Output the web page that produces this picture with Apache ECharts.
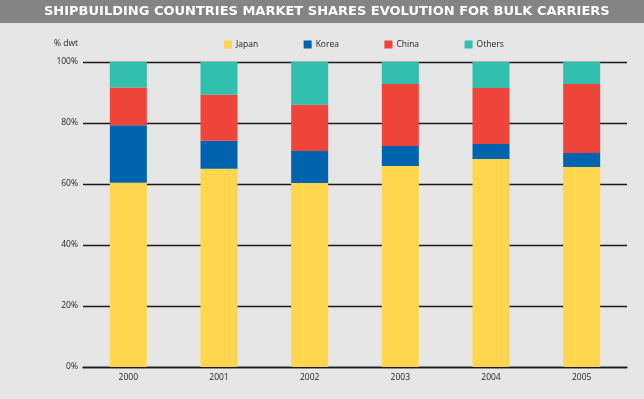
<!DOCTYPE html>
<html>
<head>
<meta charset="utf-8">
<script src="https://cdn.jsdelivr.net/npm/echarts@6/dist/echarts.min.js"></script>
<style>
	html, body { margin: 0; padding: 0; background: #e6e6e6; }
	#chart { width: 644px; height: 399px; }
</style>
</head>
<body>
<div id="chart"></div>
<script>
	'use strict';

	var years = ['2000', '2001', '2002', '2003', '2004', '2005'];
	// share of dwt, %
	var japan = [60.4, 65.0, 60.3, 65.9, 68.2, 65.6];
	var korea = [18.9, 9.2, 10.5, 6.6, 4.9, 4.6];
	var china = [12.3, 15.1, 15.2, 20.3, 18.4, 22.6];
	var others = [8.4, 10.7, 14.0, 7.2, 8.5, 7.2];
	var yTicks = [0, 20, 40, 60, 80, 100];

	var names = ['Japan', 'Korea', 'China', 'Others'];
	var colors = ['#ffd64d', '#0063ae', '#ef443a', '#32bfae'];
	var font = 'Open Sans';

	var chart = echarts.init(document.getElementById('chart'));

	var mkSeries = function (name, data) {
		return {
			name: name,
			type: 'bar',
			stack: 'total',
			barWidth: 37,
			data: data,
			itemStyle: { borderWidth: 0 },
			emphasis: { disabled: true }
		};
	};

	var option = {
		backgroundColor: '#e6e6e6',
		animation: false,
		color: colors,
		textStyle: { fontFamily: font },
		graphic: [{
			type: 'rect',
			left: 0, top: 0,
			shape: { width: 644, height: 23 },
			style: { fill: '#848484' },
			z: 0
		}, {
			type: 'text',
			left: 44, top: 5,
			style: {
				text: 'SHIPBUILDING COUNTRIES MARKET SHARES EVOLUTION FOR BULK CARRIERS',
				fill: '#ffffff',
				font: 'bold 13px "DejaVu Sans"'
			}
		}, {
			type: 'text',
			left: 54, top: 39,
			style: {
				text: '% dwt',
				fill: '#222222',
				font: '8.5px "Open Sans"'
			}
		}],
		legend: {
			top: 40,
			left: 224,
			padding: 0,
			itemWidth: 8,
			itemHeight: 8,
			itemGap: 45.5,
			icon: 'rect',
			data: names,
			textStyle: { fontSize: 8.5, color: '#222', padding: [0, 0, 0, -1] }
		},
		grid: {
			left: 83,
			right: 17,
			top: 62,
			bottom: 32
		},
		xAxis: {
			type: 'category',
			data: years,
			axisLine: { lineStyle: { color: '#1a1a1a', width: 1.3 } },
			axisTick: { show: false },
			axisLabel: { fontSize: 8.5, color: '#222', margin: 6 }
		},
		yAxis: {
			type: 'value',
			min: yTicks[0],
			max: yTicks[yTicks.length - 1],
			interval: 20,
			axisLine: { show: false },
			axisTick: { show: false },
			axisLabel: {
				fontSize: 8.5,
				color: '#222',
				margin: 5,
				formatter: function (v) { return v + '%'; }
			},
			splitLine: { lineStyle: { color: '#1a1a1a', width: 1.3 } }
		},
		series: [
			mkSeries(names[0], japan),
			mkSeries(names[1], korea),
			mkSeries(names[2], china),
			mkSeries(names[3], others)
		]
	};

	chart.setOption(option);
</script>
</body>
</html>
